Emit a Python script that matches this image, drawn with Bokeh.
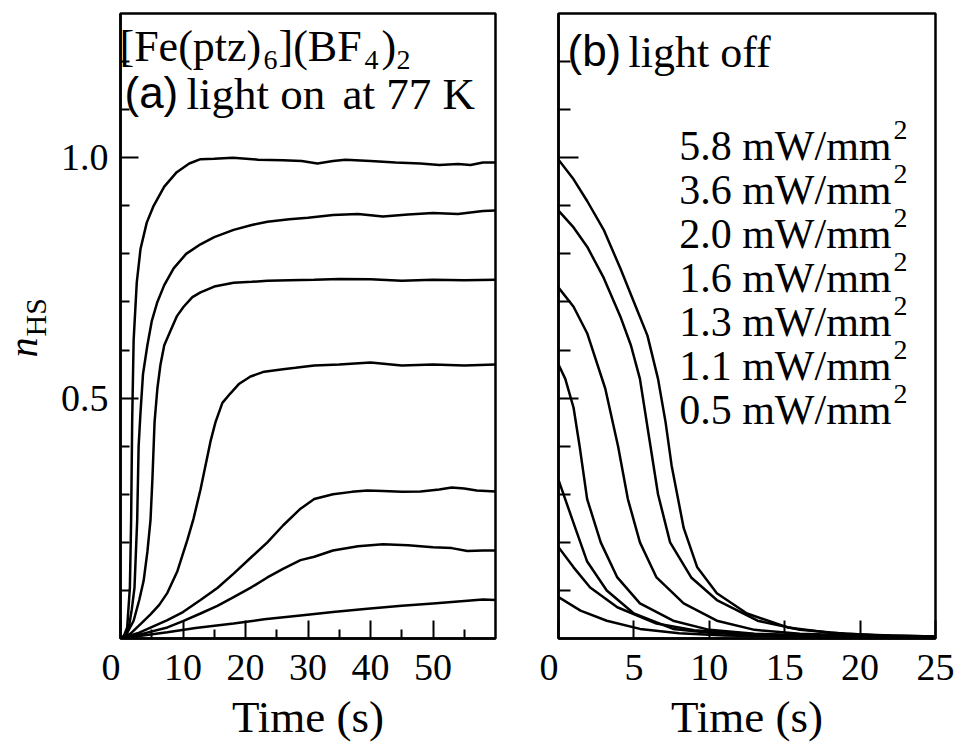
from bokeh.plotting import figure
from bokeh.models import FixedTicker, Label, Range1d
from bokeh.layouts import row
from bokeh.embed import file_html
from bokeh.resources import INLINE

SERIF = "Liberation Serif"
SANS = "Liberation Sans"

# ---------------- data: (a) light on at 77 K ----------------
on_t_58 = [0, 0.5, 1.07, 1.5, 1.7, 1.87, 2.1, 2.6, 3.2, 4.2, 5.3, 7.0, 9.0, 11.0, 12.8, 15, 18, 22, 26, 29, 31.5, 34, 36, 40, 44, 48, 51, 54, 56, 58, 60]
on_n_58 = [0, 0.004, 0.023, 0.106, 0.246, 0.454, 0.62, 0.74, 0.81, 0.865, 0.90, 0.94, 0.97, 0.988, 0.997, 0.998, 1.0, 0.996, 0.995, 0.993, 0.988, 0.993, 0.996, 0.993, 0.99, 0.988, 0.985, 0.987, 0.985, 0.99, 0.99]

on_t_36 = [0, 0.6, 1.33, 1.8, 2.24, 2.67, 2.9, 3.2, 3.6, 4.3, 5.0, 5.9, 7.0, 8.5, 10.5, 12.8, 15, 18.1, 21, 23.5, 27, 30, 34, 38, 42, 46, 50, 54, 58, 60]
on_n_36 = [0, 0.005, 0.023, 0.06, 0.106, 0.246, 0.40, 0.47, 0.55, 0.61, 0.66, 0.70, 0.735, 0.77, 0.80, 0.82, 0.835, 0.85, 0.86, 0.867, 0.872, 0.875, 0.881, 0.883, 0.878, 0.882, 0.885, 0.883, 0.889, 0.89]

on_t_20 = [0, 1.0, 2.1, 3.0, 3.7, 4.3, 4.8, 5.1, 5.45, 5.9, 6.4, 7.0, 8.0, 9.0, 10.1, 11.5, 12.8, 15, 18.1, 21, 23.5, 27, 31, 35, 40, 45, 50, 55, 60]
on_n_20 = [0, 0.01, 0.037, 0.08, 0.12, 0.18, 0.246, 0.33, 0.45, 0.52, 0.57, 0.61, 0.64, 0.67, 0.69, 0.71, 0.72, 0.732, 0.74, 0.742, 0.744, 0.745, 0.746, 0.748, 0.747, 0.744, 0.746, 0.745, 0.746]

on_t_16 = [0, 1.6, 3.2, 4.8, 6.2, 7.5, 9.1, 10.7, 11.7, 12.8, 13.6, 14.4, 15.2, 16.3, 17.6, 19, 20.8, 23, 26, 28, 31, 35, 40, 45, 50, 55, 60]
on_n_16 = [0, 0.01, 0.03, 0.05, 0.07, 0.095, 0.14, 0.205, 0.25, 0.31, 0.36, 0.41, 0.45, 0.49, 0.51, 0.53, 0.545, 0.555, 0.56, 0.563, 0.568, 0.57, 0.574, 0.568, 0.57, 0.568, 0.57]

on_t_13 = [0, 3, 7.5, 10, 12.8, 15.5, 18.1, 21, 23.5, 26, 28.8, 31, 34, 37, 39.5, 42, 45, 48, 51, 53, 55, 57, 60]
on_n_13 = [0, 0.012, 0.038, 0.055, 0.08, 0.105, 0.135, 0.17, 0.20, 0.235, 0.27, 0.29, 0.30, 0.305, 0.308, 0.307, 0.305, 0.306, 0.31, 0.314, 0.312, 0.308, 0.306]

on_t_11 = [0, 3, 7.5, 10, 12.8, 15.5, 18.1, 21, 23.5, 26, 28.8, 31, 34, 38, 42, 46, 50, 53, 55.5, 58, 60]
on_n_11 = [0, 0.008, 0.023, 0.036, 0.052, 0.068, 0.086, 0.107, 0.127, 0.145, 0.163, 0.17, 0.183, 0.192, 0.196, 0.194, 0.19, 0.188, 0.182, 0.183, 0.183]

on_t_05 = [0, 3, 7.5, 12, 18.1, 23, 28.8, 34, 39.5, 45, 50, 55, 58, 60]
on_n_05 = [0, 0.005, 0.013, 0.022, 0.031, 0.04, 0.048, 0.055, 0.062, 0.068, 0.073, 0.078, 0.081, 0.08]

# ---------------- data: (b) light off ----------------
off_t_58 = [0, 1, 1.9, 3, 4.1, 5.0, 5.9, 6.6, 7.1, 7.5, 8.3, 9.2, 10.5, 12.5, 15.2, 18, 21, 25]
off_n_58 = [0.996, 0.955, 0.91, 0.85, 0.77, 0.70, 0.63, 0.54, 0.45, 0.36, 0.23, 0.148, 0.094, 0.052, 0.023, 0.012, 0.007, 0.004]

off_t_36 = [0, 1, 1.9, 3, 4.1, 4.8, 5.4, 6.1, 6.6, 7.4, 8.8, 10.5, 13.2, 16, 19, 22, 25]
off_n_36 = [0.89, 0.855, 0.815, 0.75, 0.67, 0.61, 0.54, 0.40, 0.30, 0.20, 0.127, 0.08, 0.037, 0.018, 0.01, 0.006, 0.004]

off_t_20 = [0, 1, 1.9, 3.1, 3.95, 4.6, 5.4, 6.5, 8.3, 10.5, 13, 16, 20, 25]
off_n_20 = [0.73, 0.69, 0.635, 0.52, 0.40, 0.29, 0.20, 0.127, 0.073, 0.037, 0.018, 0.01, 0.006, 0.003]

off_t_16 = [0, 0.45, 1.0, 1.4, 1.9, 2.8, 3.9, 5.4, 7.6, 10, 13, 17, 21, 25]
off_n_16 = [0.57, 0.54, 0.48, 0.40, 0.29, 0.20, 0.127, 0.073, 0.037, 0.018, 0.01, 0.006, 0.004, 0.003]

off_t_13 = [0, 1.0, 1.9, 3.2, 5.0, 7.6, 10, 13, 17, 21, 25]
off_n_13 = [0.33, 0.24, 0.16, 0.10, 0.052, 0.02, 0.012, 0.007, 0.005, 0.003, 0.002]

off_t_11 = [0, 1.0, 2.1, 3.9, 6.5, 9, 12, 16, 20, 25]
off_n_11 = [0.19, 0.148, 0.106, 0.065, 0.031, 0.017, 0.01, 0.006, 0.004, 0.002]

off_t_05 = [0, 1.46, 3.2, 5.4, 8, 11, 15, 20, 25]
off_n_05 = [0.086, 0.058, 0.037, 0.02, 0.011, 0.006, 0.004, 0.002, 0.001]

powers = ["5.8", "3.6", "2.0", "1.6", "1.3", "1.1", "0.5"]

on_series = [(on_t_58, on_n_58), (on_t_36, on_n_36), (on_t_20, on_n_20), (on_t_16, on_n_16),
             (on_t_13, on_n_13), (on_t_11, on_n_11), (on_t_05, on_n_05)]
off_series = [(off_t_58, off_n_58), (off_t_36, off_n_36), (off_t_20, off_n_20), (off_t_16, off_n_16),
              (off_t_13, off_n_13), (off_t_11, off_n_11), (off_t_05, off_n_05)]

a_xticks = [0, 10, 20, 30, 40, 50]
a_xminor = [5, 15, 25, 35, 45, 55]
b_xticks = [0, 5, 10, 15, 20, 25]
y_ticks = [0.5, 1.0]
y_minor = [0.1, 0.2, 0.3, 0.4, 0.6, 0.7, 0.8, 0.9, 1.1, 1.2]

FRAME_H = 625
TOP = 13
BOTTOM = 104
FIG_H = TOP + FRAME_H + BOTTOM
FIG_SP = "\u2007"  # figure space: nudges the "0" tick label left as in the original
SHIFT = 0.32       # Bokeh draws an "alphabetic" label this fraction of its size lower than asked


def base_fig(xmax, fw, left, right):
    p = figure(frame_width=fw, frame_height=FRAME_H,
               x_range=Range1d(0, xmax), y_range=Range1d(0, 1.3),
               output_backend="svg", toolbar_location=None,
               min_border_left=left, min_border_right=right,
               min_border_top=TOP, min_border_bottom=BOTTOM)
    p.xgrid.visible = False
    p.ygrid.visible = False
    p.background_fill_color = "white"
    p.border_fill_color = "white"
    p.outline_line_color = "black"
    p.outline_line_width = 2.5
    p.outline_line_alpha = 1.0
    for ax in (p.xaxis[0], p.yaxis[0]):
        ax.axis_line_width = 2.5
        ax.major_tick_out = 0
        ax.minor_tick_out = 0
        ax.major_tick_line_width = 2
        ax.minor_tick_line_width = 2
        ax.major_label_text_font = SERIF
        ax.major_label_text_font_size = "38px"
        ax.major_label_text_color = "black"
    xa = p.xaxis[0]
    xa.axis_label = "Time (s)"
    xa.axis_label_text_font = SERIF
    xa.axis_label_text_font_size = "45px"
    xa.axis_label_text_font_style = "normal"
    xa.axis_label_text_color = "black"
    xa.axis_label_standoff = 1
    xa.major_label_standoff = 7
    return p


def put(p, px, py, text, size, fx0, fy0, font=SERIF, align="left", style="normal"):
    # px, py: page position of the text's baseline start; fx0, fy0: page position of the frame's lower-left corner
    p.add_layout(Label(x=0, y=0, x_offset=px - fx0, y_offset=fy0 - (py - SHIFT * size), text=text,
                       text_font=font, text_font_size=f"{size}px", text_font_style=style,
                       text_align=align, text_baseline="alphabetic", text_color="black"))


# ---------------- y-axis title strip ----------------
YL_W = 56
N_SIZE, HS_SIZE = 40, 30
pl = figure(frame_width=YL_W, frame_height=FIG_H, x_range=Range1d(0, YL_W), y_range=Range1d(0, FIG_H),
            output_backend="svg", toolbar_location=None, x_axis_location=None, y_axis_location=None,
            min_border=0)
pl.xgrid.visible = False
pl.ygrid.visible = False
pl.outline_line_color = None
pl.background_fill_color = "white"
pl.border_fill_color = "white"
pl.add_layout(Label(x=36 - SHIFT * N_SIZE, y=FIG_H - 344, text="n", text_font=SERIF,
                    text_font_size=f"{N_SIZE}px", text_font_style="italic", text_align="left",
                    text_baseline="alphabetic", angle=1.5707963, text_color="black"))
pl.add_layout(Label(x=45 - SHIFT * HS_SIZE, y=FIG_H - 323, text="HS", text_font=SERIF,
                    text_font_size=f"{HS_SIZE}px", text_align="left", text_baseline="alphabetic",
                    angle=1.5707963, text_color="black"))

# ---------------- panel (a) ----------------
FX_A, FY = 120, TOP + FRAME_H
pa = base_fig(60, 375, FX_A - YL_W, 35)
xa = pa.xaxis[0]
xa.ticker = FixedTicker(ticks=a_xticks, minor_ticks=a_xminor)
xa.major_tick_in = 18
xa.minor_tick_in = 9
xa.major_label_overrides = {0: "0" + FIG_SP}
ya = pa.yaxis[0]
ya.ticker = FixedTicker(ticks=y_ticks, minor_ticks=y_minor)
ya.major_tick_in = 18
ya.minor_tick_in = 9
ya.major_label_standoff = 12
ya.major_label_overrides = {0.5: "0.5", 1.0: "1.0"}

for t, n in on_series:
    pa.line(t, n, line_color="black", line_width=2.5)

put(pa, 119, 60, "[Fe(ptz)", 44, FX_A, FY)
put(pa, 263, 68, "6", 28, FX_A, FY)
put(pa, 278, 60, "](BF", 44, FX_A, FY)
put(pa, 364, 68, "4", 28, FX_A, FY)
put(pa, 381, 60, ")", 44, FX_A, FY)
put(pa, 396, 68, "2", 28, FX_A, FY)
put(pa, 124, 106, "(a)", 44, FX_A, FY, font=SANS)
put(pa, 186, 108, "light on", 45, FX_A, FY)
put(pa, 342, 108, "at 77 K", 45, FX_A, FY)

# ---------------- panel (b) ----------------
FX_B = 558
pb = base_fig(25, 377, 28, 24)
xb = pb.xaxis[0]
xb.ticker = FixedTicker(ticks=b_xticks)
xb.major_tick_in = 18
xb.minor_tick_in = 0
xb.minor_tick_line_color = None
xb.major_label_overrides = {0: "0" + FIG_SP}
yb = pb.yaxis[0]
yb.ticker = FixedTicker(ticks=y_ticks, minor_ticks=y_minor)
yb.major_tick_in = 20
yb.minor_tick_in = 12
yb.major_label_overrides = {0.5: "", 1.0: ""}
yb.major_label_standoff = 0

for t, n in off_series:
    pb.line(t, n, line_color="black", line_width=2.5)

put(pb, 567, 64, "(b)", 44, FX_B, FY, font=SANS)
put(pb, 628, 66, "light off", 44, FX_B, FY)

for i, pw in enumerate(powers):
    base = 159 + i * 44
    put(pb, 891, base, f"{pw} mW/mm", 42, FX_B, FY, align="right")
    put(pb, 893, base - 21, "2", 28, FX_B, FY)

layout = row(pl, pa, pb)
open("out.html", "w").write(file_html(layout, INLINE))
